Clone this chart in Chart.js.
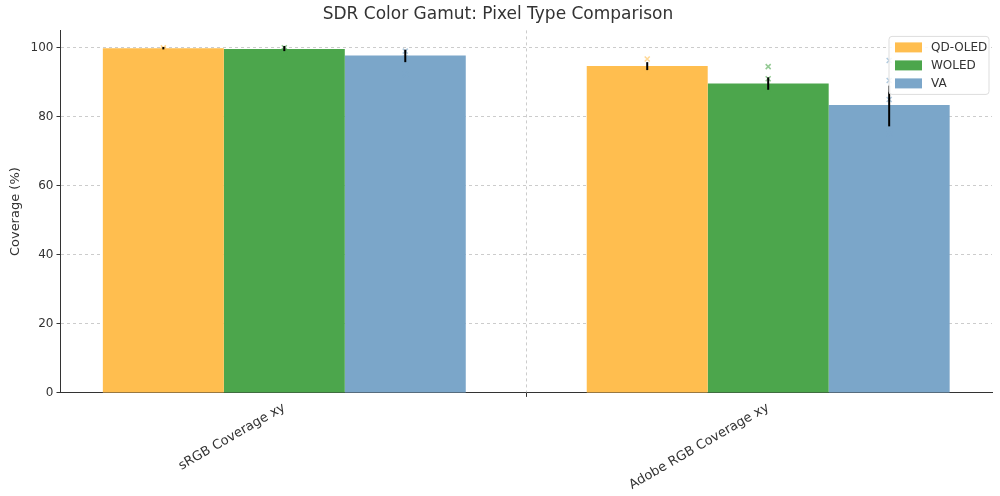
<!DOCTYPE html>
<html><head><meta charset="utf-8">
<script src="https://cdn.jsdelivr.net/npm/chart.js@4"></script>
<style>html,body{margin:0;background:#fff}#w{width:1000px;height:496px}</style>
</head><body><div id="w"><canvas id="c"></canvas></div>
<script>
const categories = ['sRGB Coverage xy', 'Adobe RGB Coverage xy'];
const seriesNames = ['QD-OLED', 'WOLED', 'VA'];
const colors = ['#ffbe4f', '#4ca64c', '#7ba6c9'];
const qdOled = [99.8, 94.7];
const woled = [99.6, 89.6];
const va = [97.7, 83.4];
const errLow = [[99.5, 93.5], [99.0, 87.8], [95.8, 77.2]];
const errHigh = [[100.2, 95.8], [100.5, 91.4], [99.4, 89.0]];
const points = [
  [[100, 99.5], [96.7, 93.0]],
  [[97.9, 100, 99.2], [94.5, 91.0, 88.0]],
  [[92.3, 99.0, 97.0], [96.3, 90.5, 85.0, 77.0, 75.0]]
];
const yTicks = [0, 20, 40, 60, 80, 100];
const series = [qdOled, woled, va];

const extras = {
  id: 'extras',
  afterDatasetsDraw(chart) {
    const ctx = chart.ctx, y = chart.scales.y;
    chart.data.datasets.forEach((ds, di) => {
      const meta = chart.getDatasetMeta(di);
      meta.data.forEach((bar, ci) => {
        const x = bar.x;
        ctx.save();
        // scatter x markers
        ctx.strokeStyle = colors[di]; ctx.globalAlpha = 0.6; ctx.lineWidth = 1.5;
        points[di][ci].forEach(v => {
          const py = y.getPixelForValue(v);
          ctx.beginPath(); ctx.moveTo(x - 2.5, py - 2.5); ctx.lineTo(x + 2.5, py + 2.5);
          ctx.moveTo(x + 2.5, py - 2.5); ctx.lineTo(x - 2.5, py + 2.5); ctx.stroke();
        });
        ctx.globalAlpha = 1; ctx.strokeStyle = '#000'; ctx.lineWidth = 2;
        ctx.beginPath(); ctx.moveTo(x, y.getPixelForValue(errLow[di][ci]));
        ctx.lineTo(x, y.getPixelForValue(errHigh[di][ci])); ctx.stroke();
        ctx.restore();
      });
    });
    // legend
    const a = chart.chartArea;
    const lx = a.right - 103, ly = a.top + 6, w = 100, h = 58;
    ctx.save();
    ctx.fillStyle = 'rgba(255,255,255,0.85)'; ctx.strokeStyle = '#ddd'; ctx.lineWidth = 1;
    ctx.beginPath(); ctx.roundRect(lx, ly, w, h, 3); ctx.fill(); ctx.stroke();
    ctx.font = '12px "DejaVu Sans"'; ctx.textBaseline = 'middle'; ctx.fillStyle = '#333';
    seriesNames.forEach((n, i) => {
      const yy = ly + 11 + i * 18;
      ctx.fillStyle = colors[i]; ctx.fillRect(lx + 6, yy - 5, 27, 10);
      ctx.fillStyle = '#333'; ctx.fillText(n, lx + 42, yy);
    });
    ctx.restore();
  }
};

new Chart(document.getElementById('c'), {
  type: 'bar',
  data: {
    datasets: series.map((s, i) => ({
      label: seriesNames[i],
      data: s.map((v, j) => ({x: j, y: v})),
      backgroundColor: colors[i],
      borderWidth: 0,
      barPercentage: 1, categoryPercentage: 0.75
    }))
  },
  options: {
    responsive: true, maintainAspectRatio: false, animation: false,
    layout: {padding: {right: 8, top: 0, left: 4}},
    plugins: {
      legend: {display: false}, tooltip: {enabled: false},
      title: {display: true, text: 'SDR Color Gamut: Pixel Type Comparison', color: '#333',
        font: {family: 'DejaVu Sans', size: 17, weight: 'normal'}, padding: {top: 4, bottom: 6}}
    },
    scales: {
      x: {
        type: 'linear', min: -0.4625, max: 1.4625, offset: false,
        afterBuildTicks: s => { s.ticks = categories.map((c, i) => ({value: i})); },
        ticks: {callback: v => categories[v], minRotation: 30, maxRotation: 30, color: '#333',
          font: {family: 'DejaVu Sans', size: 13}},
        grid: {color: '#ccc', drawTicks: true, tickColor: '#333', tickLength: 4, tickBorderDash: [], borderDash: [3, 3]},
        border: {color: '#333', dash: [3, 3]}
      },
      y: {
        min: 0, max: 105,
        afterBuildTicks: s => { s.ticks = yTicks.map(v => ({value: v})); },
        ticks: {color: '#333', font: {family: 'DejaVu Sans', size: 12}},
        title: {display: true, text: 'Coverage (%)', color: '#333', font: {family: 'DejaVu Sans', size: 13}},
        grid: {color: '#ccc', tickColor: '#333', tickLength: 4},
        border: {color: '#333', dash: [3, 3]}
      }
    }
  },
  plugins: [extras]
});
</script></body></html>
